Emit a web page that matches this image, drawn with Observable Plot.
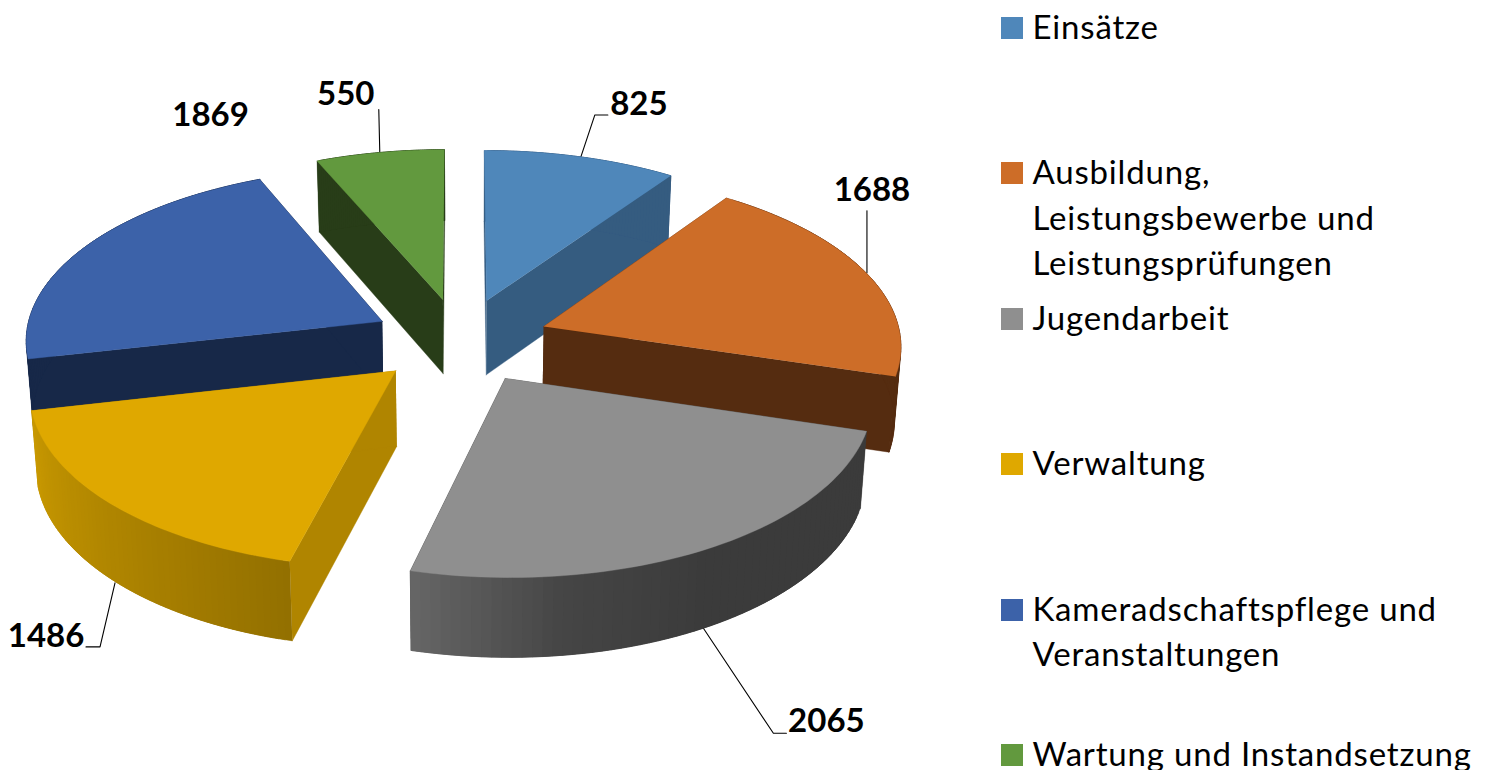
<!DOCTYPE html>
<html><head><meta charset="utf-8">
<script src="https://cdn.jsdelivr.net/npm/d3@7"></script>
<script src="https://cdn.jsdelivr.net/npm/@observablehq/plot@0.6"></script>
<style>
html,body{margin:0;padding:0;background:#fff;overflow:hidden;width:1490px;height:770px}
#chart{position:absolute;left:0;top:0}
#legend{position:absolute;left:1001px;top:0;width:489px;font-family:Lato,sans-serif;font-size:33px;letter-spacing:.82px;line-height:45.5px;color:#000}
.row{position:absolute;left:0;white-space:pre}
.sw{width:22px;height:22px;position:absolute;left:0;top:13px}
.tx{position:absolute;left:31.5px;top:0}
</style></head><body>
<div id="chart"></div><div id="legend"></div>
<script>
const categories = ["Einsätze","Ausbildung,\nLeistungsbewerbe und\nLeistungsprüfungen","Jugendarbeit","Verwaltung","Kameradschaftspflege und\nVeranstaltungen","Wartung und Instandsetzung"];
const values = [825,1688,2065,1486,1869,550];
const topColors = ["#4f87ba","#cd6d28","#8f8f8f","#dfa800","#3c62a9","#62993e"];
const cutColors = ["#355c80","#552c10","#3b3b3b","#b08500","#172848","#283d18"];
const outerRamps = [["#355c80","#355c80"],["#552c10","#552c10"],["#3b3b3b","#3b3b3b","#3b3b3b","#454545","#666666"],["#927000","#a67e00","#b88c00","#c99900"],["#172848","#172848"],["#283d18","#283d18"]];
const paintOrder = [5,0,4,1,3,2];
// label placement relative to the projected mid-arc point of each slice
const labelOffsets = [[58,-53],[6,-82],[120,172],[-65,133],[127,-133],[-34,-58]];
const leaderOffsets = [[[0,0],[14,-42],[27,-42]],[[1,0],[1,-62]],[[-3,79],[67,184],[80,184]],[[4,79],[-11,143],[-25,143]],[],[[0,0],[-1,-43]]];
const view = {cx:460,cy:340,R:357.5,explode:88.8,k:0.481,p:0.000271,h:75,bottomScale:0.985};

const total = d3.sum(values);
let acc = 0;
const slices = values.map((v,i)=>{const a0=acc/total*2*Math.PI;acc+=v;const a1=acc/total*2*Math.PI;return {i,a0,a1,mid:(a0+a1)/2};});
function pt(sl,a,r,down){
  const u=view.explode*Math.sin(sl.mid)+r*Math.sin(a);
  const v=view.explode*Math.cos(sl.mid)+r*Math.cos(a);
  const s=1/(1+view.p*v);
  return {x:view.cx+s*u*(down?view.bottomScale:1),y:view.cy-s*view.k*v+(down?view.h*Math.sqrt(s):0)};
}
const polys=[];let pid=0;
function poly(points,color){const id=pid++;points.forEach(q=>polys.push({x:q.x,y:q.y,id,color}));}
const N=60;
for(const idx of paintOrder){
  const sl=slices[idx];
  const arc=d3.range(N+1).map(j=>sl.a0+(sl.a1-sl.a0)*j/N);
  for(const a of [sl.a0,sl.a1])
    poly([pt(sl,a,0,false),pt(sl,a,view.R,false),pt(sl,a,view.R,true),pt(sl,a,0,true)],cutColors[idx]);
  const ramp=d3.piecewise(d3.interpolateRgb,outerRamps[idx]);
  // each band runs on beneath the next one so that no seam shows between them
  for(let j=0;j<N;j++){
    const next=arc[Math.min(j+3,N)];
    poly([pt(sl,arc[j],view.R,false),pt(sl,next,view.R,false),pt(sl,next,view.R,true),pt(sl,arc[j],view.R,true)],ramp((j+.5)/N));
  }
  poly([pt(sl,sl.a0,0,false),...arc.map(a=>pt(sl,a,view.R,false))],topColors[idx]);
}
const anchors=slices.map(sl=>pt(sl,sl.mid,view.R,false));
const labels=values.map((v,i)=>({x:anchors[i].x+labelOffsets[i][0],y:anchors[i].y+labelOffsets[i][1],t:String(v)}));
const leaders=leaderOffsets.flatMap((l,i)=>l.map(o=>({x:anchors[i].x+o[0],y:anchors[i].y+o[1],i})));

const chart=Plot.plot({
  width:990,height:770,margin:0,
  x:{domain:[0,990],range:[0,990],axis:null},
  y:{domain:[0,770],range:[0,770],axis:null},
  color:{type:"identity"},
  style:{background:"#fff",fontFamily:"Lato,sans-serif"},
  marks:[
    Plot.line(leaders,{x:"x",y:"y",z:"i",stroke:"#000",strokeWidth:1.1,curve:"linear"}),
    Plot.line(polys,{x:"x",y:"y",z:"id",fill:"color",stroke:"color",strokeWidth:0.4,curve:"linear"}),
    Plot.text(labels,{x:"x",y:"y",text:"t",fontSize:33,fontWeight:700,fill:"#000",textAnchor:"middle",lineAnchor:"middle"})
  ]
});
document.getElementById("chart").append(chart);
const legend=document.getElementById("legend");
categories.forEach((c,i)=>{
  const row=document.createElement("div");row.className="row";row.style.top=(3.5+i*145.5)+"px";
  const sw=document.createElement("div");sw.className="sw";sw.style.background=topColors[i];
  const tx=document.createElement("div");tx.className="tx";tx.textContent=c;
  row.append(sw,tx);legend.append(row);
});
</script></body></html>
